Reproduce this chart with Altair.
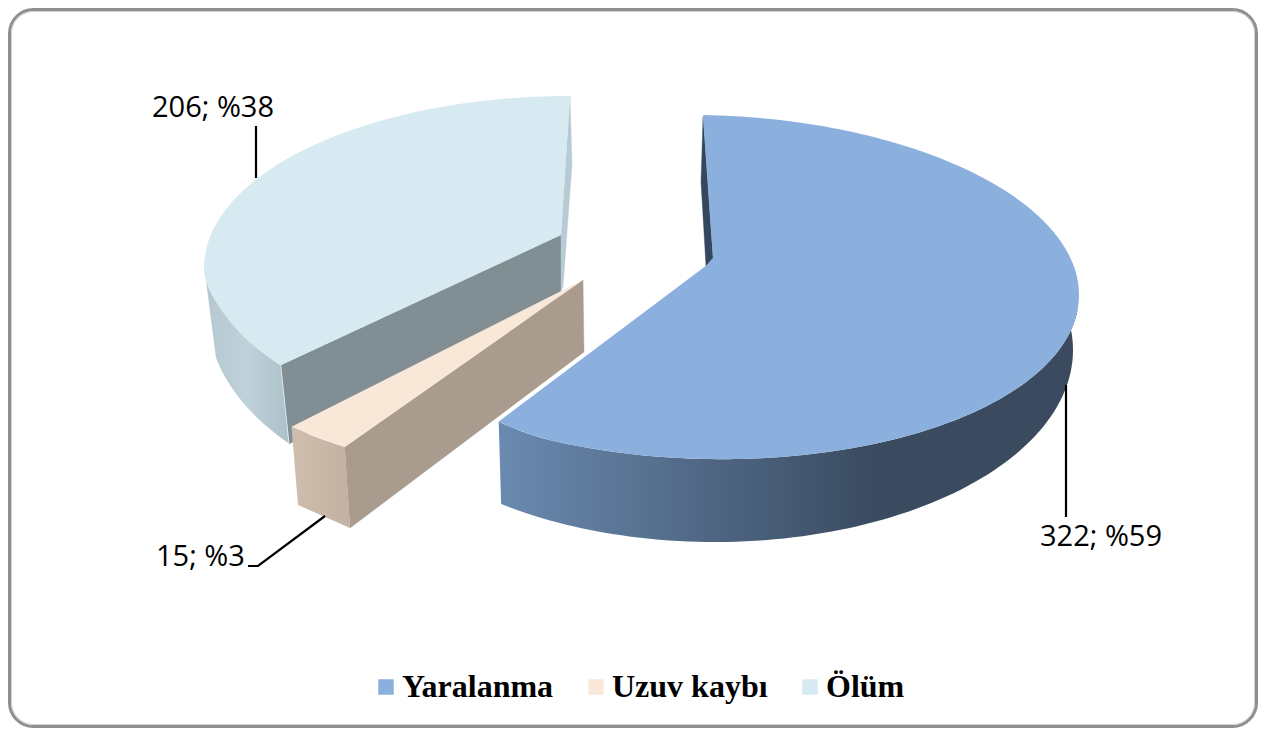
import math
import altair as alt

NAMES = ["Yaralanma", "Uzuv kaybı", "Ölüm"]
VALUES = [322, 15, 206]
TOP_COLORS = ["#8bb0de", "#f9e7d8", "#d8eaf1"]
LABEL_X = [1040, 156, 152]
LABEL_Y = [537, 557, 108]

W, H = 1250, 720
OX, OY = 8, 8   # page margin
TOTAL = sum(VALUES)
SWEEP = [v / TOTAL * 360 for v in VALUES]
T1 = SWEEP[0]
T2 = T1 + SWEEP[1]
LABELS = [f"{v}; %{round(v / TOTAL * 100)}" for v in VALUES]


def rim(c, t0, t1, shear=0.0, n=90, warp=None):
    cx, cy, a, b = c
    pts = []
    for i in range(n + 1):
        deg = t0 + (t1 - t0) * i / n
        t = math.radians(deg)
        x = cx + a * math.sin(t)
        y = cy - b * math.cos(t) + shear * (x - cx)
        if warp:
            y += warp(deg, x)
        pts.append((x, y))
    return pts


def feat(pts, name=None):
    ring = [[x - OX, y - OY] for x, y in pts]
    ring.append(ring[0])
    return {"type": "Feature", "properties": {"name": name or ""},
            "geometry": {"type": "Polygon", "coordinates": [ring]}}


PROJ = dict(type="identity", scale=1, translate=[0, 0], reflectY=False)
COLOR = alt.Color("properties.name:N",
                  scale=alt.Scale(domain=NAMES, range=TOP_COLORS),
                  legend=alt.Legend(orient="none", legendX=362, legendY=663, direction="horizontal",
                                    title=None, symbolType="square", symbolSize=240,
                                    symbolStrokeWidth=0, labelFont="Liberation Serif",
                                    labelFontSize=32, labelFontWeight="bold", labelColor="#000000",
                                    labelLimit=400, labelOffset=0, columnPadding=26))


def solid(pts, color):
    return alt.Chart(alt.Data(values=[feat(pts)])).mark_geoshape(
        fill=color, stroke=color if isinstance(color, str) else "transparent", strokeWidth=0.4
    ).project(**PROJ)


def hgrad(stops):
    return {"gradient": "linear", "x1": 0, "x2": 1, "y1": 0, "y2": 0,
            "stops": [{"offset": o, "color": c} for o, c in stops]}


def top(pts, i):
    return alt.Chart(alt.Data(values=[feat(pts, NAMES[i])])).mark_geoshape(strokeWidth=0).encode(
        color=COLOR).project(**PROJ)


# Ölüm: perspective makes its lower-left rim sit a little higher than a true ellipse
def ol_warp(deg, x):
    if deg >= 270:
        return 0.0
    if deg > 251.4:
        return -11 * math.sin(math.pi * (270 - deg) / (2 * 18.6))
    return -11 + 3 * (251.4 - deg) / 19.2


OL_TOP = (570, 268, 366, 172)
OL_BOT = (570, 315, 362, 204)
OL_APEX = (561, 235)
ol_start = 360 - SWEEP[2] * 127.8 / 136.6
ol_rim = rim(OL_TOP, ol_start, 360, warp=ol_warp)
ol_wall = rim(OL_TOP, ol_start, 264, n=30, warp=ol_warp) + rim(OL_BOT, 258, ol_start - 1.2, n=30)
ol_face = [OL_APEX, ol_rim[0], (289, 444), (561, 300)]
ol_sliver = [(570, 96), (572, 164), (563, 287), (561, 291), OL_APEX]

# Uzuv kaybı
UZ_TOP = (561, 291, 392, 187)
UZ_APEX = (583, 280)
uz_rim = rim(UZ_TOP, T1, T2, n=8)
uz_right = [UZ_APEX, uz_rim[0], (350, 528), (584, 352)]
uz_front = uz_rim + [(298, 505), (350, 528)]


# Yaralanma
def ya_warp(deg, x):
    return -4.5 * ((560 - x) / 61) ** 2 if x < 560 else 0.0


YA_TOP = (705, 287, 374, 172)
YA_BOT = (715, 350, 358, 192)
YA_APEX = [(707, 265), (713, 258)]
YA_SHEAR = 0.021
ya_rim = rim(YA_TOP, -0.3, T1, YA_SHEAR, n=180, warp=ya_warp)
ya_wall = rim(YA_TOP, 95, T1, YA_SHEAR, n=90, warp=ya_warp) + rim(YA_BOT, T1 + 3.2, 78, n=90)
ya_inner = [(703, 117), (701, 182), (706, 266), (713, 258)]

frame_data = alt.Data(values=[{"a": 1}])
frame = alt.Chart(frame_data).mark_rect(
    cornerRadius=24, fill="#ffffff", stroke="#8f8f8f", strokeWidth=3).encode(
    x=alt.value(1.5), x2=alt.value(W - 1.5), y=alt.value(1.5), y2=alt.value(H - 1.5))
frame2 = alt.Chart(frame_data).mark_rect(
    cornerRadius=22, fillOpacity=0, stroke="#d0d0d0", strokeWidth=1).encode(
    x=alt.value(3.5), x2=alt.value(W - 3.5), y=alt.value(3.5), y2=alt.value(H - 3.5))

XS = alt.Scale(domain=[0, W], nice=False, zero=False)
YS = alt.Scale(domain=[H, 0], nice=False, zero=False)


def polyline(pts, color="#000000", width=2.2):
    vals = [{"x": x - OX, "y": y - OY, "o": i} for i, (x, y) in enumerate(pts)]
    return alt.Chart(alt.Data(values=vals)).mark_line(color=color, strokeWidth=width).encode(
        x=alt.X("x:Q", scale=XS, axis=None), y=alt.Y("y:Q", scale=YS, axis=None), order="o:Q")


label_vals = [{"t": t, "x": x - OX, "y": y - OY} for t, x, y in zip(LABELS, LABEL_X, LABEL_Y)]
labels = alt.Chart(alt.Data(values=label_vals)).mark_text(
    align="left", baseline="middle", font="Open Sans", fontSize=29, color="#000000").encode(
    x=alt.X("x:Q", scale=XS, axis=None), y=alt.Y("y:Q", scale=YS, axis=None), text="t:N")

chart = alt.layer(
    frame, frame2,
    solid(ol_wall, hgrad([(0, "#b5c8d1"), (0.5, "#bfd1d9"), (1, "#adc1ca")])),
    solid(ol_face, "#818e93"),
    solid(ol_sliver, "#b8cad4"),
    top(ol_rim + [OL_APEX], 2),
    polyline([ol_rim[0], (289, 444)], "#dcecf3", 1),
    solid(uz_right, "#a99c8e"),
    solid(uz_front, hgrad([(0, "#cfbeae"), (1, "#c3b2a2")])),
    top(uz_rim + [UZ_APEX], 1),
    solid(ya_inner, "#34475f"),
    solid(ya_wall, hgrad([(0, "#6a8ab0"), (0.35, "#506885"), (0.65, "#3a4b60"), (1, "#3b4a5e")])),
    top(ya_rim + YA_APEX, 0),
    polyline([(256, 126), (256, 178)]),
    polyline([(1066, 385), (1066, 517)]),
    polyline([(248, 566), (258, 566), (325, 516)]),
    labels,
).properties(
    width=W, height=H, padding=0, autosize=alt.AutoSizeParams(type="none")
).configure_view(stroke=None)

chart.save("out.html", embed_options={"renderer": "svg", "actions": False})
